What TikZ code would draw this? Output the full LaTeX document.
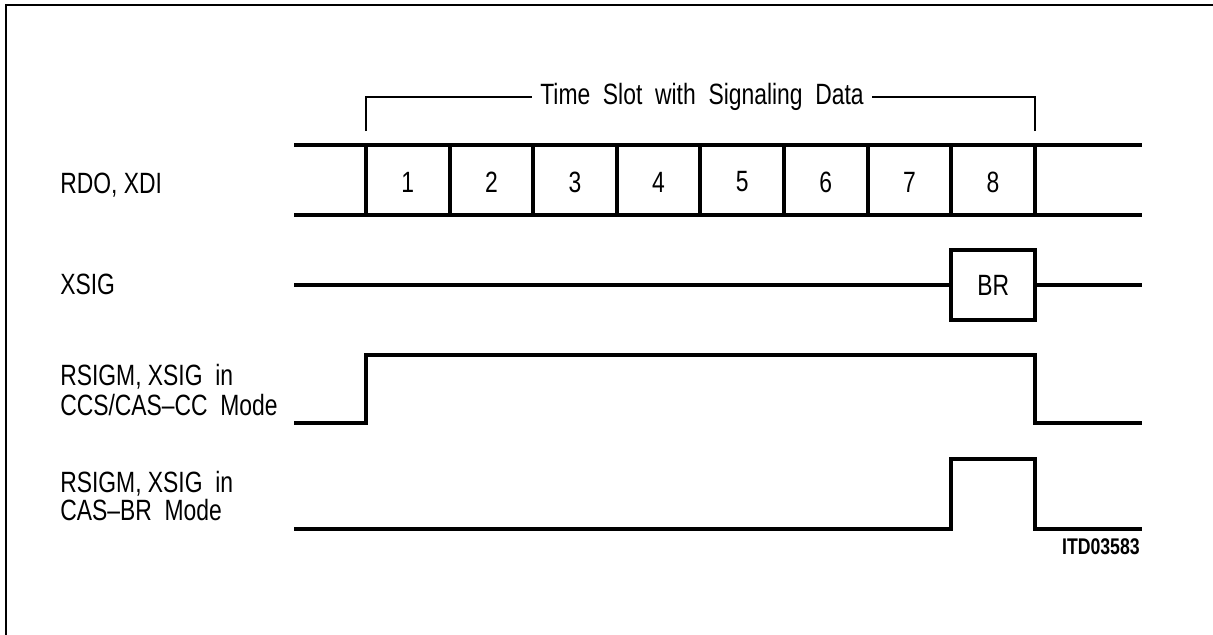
\documentclass[tikz,border=0pt]{standalone}
\usepackage{fontspec}
\setmainfont{Liberation Sans}[FakeStretch=0.78]
\begin{document}
\begin{tikzpicture}[x=0.75pt,y=-0.75pt,
  sig/.style={line width=3pt,line join=miter,line cap=rect},
  thin/.style={line width=1.1pt},
  lbl/.style={font=\fontsize{22}{23}\selectfont,anchor=west,inner sep=0pt,align=left},
  num/.style={font=\fontsize{22}{23}\selectfont,inner sep=0pt},
  brbox/.style={draw,line width=3pt,minimum width=63pt,minimum height=52.5pt,inner sep=0pt,font=\fontsize{22}{23}\selectfont}]
\useasboundingbox (0,0) rectangle (1213,635);
% frame
\draw[line width=1.6pt] (1213,5) -- (6,5) -- (6,635);
% labels
\node[lbl] (l1) at (60,185) {RDO, XDI};
\node[lbl] (l2) at (60,284) {XSIG};
\node[lbl,font=\fontsize{22}{23}\selectfont] (l3) at (60,390) {RSIGM, XSIG\ \ in\\CCS/CAS--CC\ \ Mode};
\node[lbl,font=\fontsize{22}{21.5}\selectfont] (l4) at (60,496) {RSIGM, XSIG\ \ in\\CAS--BR\ \ Mode};
% bracket
\node[num] (ts) at (702,97) {Time\ \ Slot\ \ with\ \ Signaling\ \ Data};
\draw[thin] (366,131) -- (366,97) -- ([xshift=-6pt]ts.west |- 366,97);
\draw[thin] (1035,131) -- (1035,97) -- ([xshift=6pt]ts.east |- 1035,97);
% bus
\draw[sig] (296,145) -- (1140,145);
\draw[sig] (296,215) -- (1140,215);
\foreach \i in {0,...,8} {
  \draw[sig,line cap=butt] ({366+83.6*\i},145) -- ({366+83.6*\i},215);
}
\foreach \i in {1,...,8} {
  \node[num] (d\i) at ({366+83.6*(\i-0.5)},182) {\i};
}
% XSIG
\node[brbox] (br) at (993.2,285) {BR};
\draw[sig] (296,285) -- (br.west);
\draw[sig] (br.east) -- (1140,285);
% CCS/CAS-CC
\draw[sig] (296,423) -- (366,423) -- (366,355) -- (1035,355) -- (1035,423) -- (1140,423);
% CAS-BR
\draw[sig] (296,529) -- (951.2,529) -- (951.2,459) -- (1035,459) -- (1035,529) -- (1140,529);
\node[num,anchor=east,font=\bfseries\fontsize{17}{18}\selectfont] (id) at (1140,547) {ITD03583};
\end{tikzpicture}
\end{document}
